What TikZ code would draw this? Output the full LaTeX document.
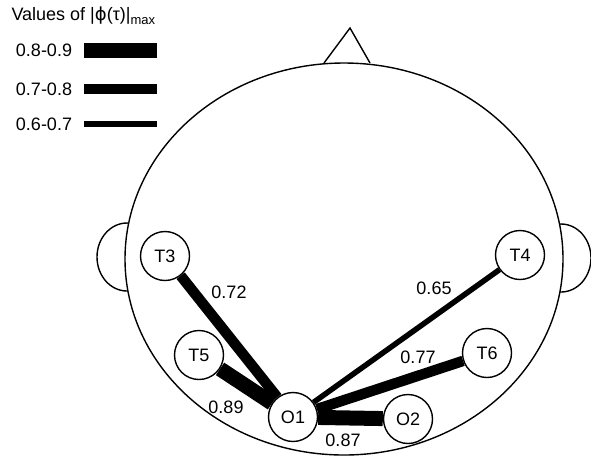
\documentclass[tikz,border=0pt]{standalone}
\usepackage{fontspec}
\setmainfont{Liberation Sans}
\newfontfamily\symfont{DejaVu Sans}
\usetikzlibrary{positioning}

\tikzset{
  electrode/.style={circle, draw=black, line width=1.4pt, fill=white, minimum size=49pt, inner sep=0pt},
  strong/.style={black, line width=15pt},
  medium/.style={black, line width=10.5pt},
  weak/.style={black, line width=5.5pt}
}

\begin{document}
\begin{tikzpicture}[x=1pt, y=-1pt, font=\fontsize{18}{21}\selectfont]
\useasboundingbox (0,0) rectangle (591,459);

%legend
\node[anchor=west](title) at (8,16){Values of |{\symfont ϕ}(τ)|\raisebox{-0.45ex}{\fontsize{13}{14}\selectfont max}};
\node(lab89) at (44,50){0.8-0.9};
\node(lab78) at (44,89){0.7-0.8};
\node(lab67) at (44,124){0.6-0.7};
\draw[strong] (84,50) -- (157,50);
\draw[medium] (84,89) -- (157,89);
\draw[weak] (84,124) -- (157,124);

%nose and ears
\draw[black, line width=1.4pt] (324,63) -- (350,28) -- (370,63);
\draw[black, line width=1.4pt] (127,257) ellipse (30 and 34);
\draw[black, line width=1.4pt] (561,258) ellipse (30 and 34);

%head
\filldraw[fill=white, draw=black, line width=1.4pt] (344,259) ellipse (219 and 196);

%electrodes
\node[electrode](T3) at (165,256){T3};
\node[electrode](T4) at (520,255){T4};
\node[electrode](T5) at (199,355){T5};
\node[electrode](T6) at (487,353){T6};
\node[electrode](O1) at (293,417){O1};
\node[electrode](O2) at (408,419){O2};

%connections
\draw[medium] (O1) -- (T3);
\draw[strong] (O1) -- (T5);
\draw[strong] (O1) -- (O2);
\draw[medium] (O1) -- (T6);
\draw[weak] (O1) -- (T4);

%values
\node(v72) at (229,292){0.72};
\node(v89) at (226,407){0.89};
\node(v87) at (343,440){0.87};
\node(v77) at (418,357){0.77};
\node(v65) at (434,288){0.65};

\end{tikzpicture}
\end{document}
